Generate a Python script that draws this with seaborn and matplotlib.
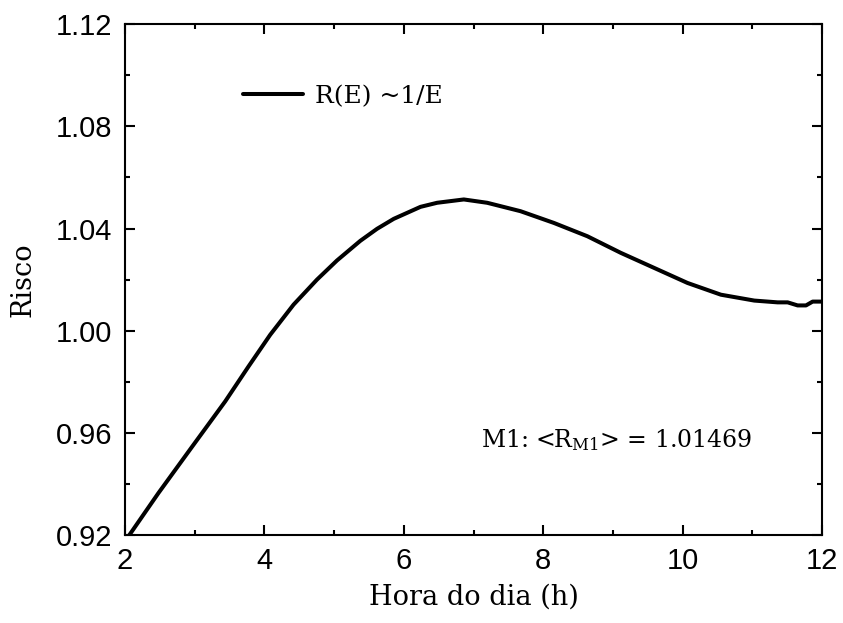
import matplotlib
matplotlib.use("Agg")
import matplotlib.pyplot as plt
import seaborn as sns
import pandas as pd
from matplotlib.ticker import MultipleLocator, FormatStrFormatter

hours = [2.0, 2.096, 2.479, 2.958, 3.437, 3.772, 4.083, 4.418, 4.754, 5.041,
         5.376, 5.616, 5.855, 6.239, 6.478, 6.861, 7.196, 7.675, 8.154, 8.633,
         9.112, 9.591, 10.07, 10.549, 11.028, 11.363, 11.507, 11.65, 11.77,
         11.866, 12.0]
risk = [0.9176, 0.9213, 0.9364, 0.9544, 0.9723, 0.9860, 0.9984, 1.0102, 1.0200,
        1.0275, 1.0352, 1.0399, 1.0438, 1.0485, 1.0501, 1.0514, 1.0501, 1.0468,
        1.0422, 1.0370, 1.0305, 1.0246, 1.0187, 1.0141, 1.0118, 1.0111, 1.0111,
        1.0099, 1.0099, 1.0114, 1.0114]
series_label = "R(E) ~1/E"
annotation = r"M1: <R$_{\mathrm{M1}}$> = 1.01469"
x_label = "Hora do dia (h)"
y_label = "Risco"

sns.set_style("white")
plt.rcParams["font.family"] = ["Liberation Sans", "DejaVu Sans"]
plt.rcParams["mathtext.fontset"] = "custom"
plt.rcParams["mathtext.rm"] = "DejaVu Serif"
plt.rcParams["mathtext.it"] = "DejaVu Serif:italic"
for key in ["text.color", "axes.labelcolor", "xtick.color", "ytick.color",
            "axes.edgecolor"]:
    plt.rcParams[key] = "black"

df = pd.DataFrame({"hora": hours, "risco": risk})

fig = plt.figure(figsize=(8.43, 6.23), dpi=100)
ax = fig.add_axes([0.1483, 0.1413, 0.8268, 0.8197])

sns.lineplot(data=df, x="hora", y="risco", ax=ax, color="black", lw=2.9,
             label=series_label, sort=False)

ax.set_xlim(2, 12)
ax.set_ylim(0.92, 1.12)
ax.xaxis.set_major_locator(MultipleLocator(2))
ax.xaxis.set_minor_locator(MultipleLocator(1))
ax.yaxis.set_major_locator(MultipleLocator(0.04))
ax.yaxis.set_minor_locator(MultipleLocator(0.02))
ax.yaxis.set_major_formatter(FormatStrFormatter("%.2f"))

for s in ax.spines.values():
    s.set_visible(True)
    s.set_color("black")
    s.set_linewidth(1.5)

ax.tick_params(which="both", direction="in", top=True, right=True,
               bottom=True, left=True, color="black", labelcolor="black", width=1.5)
ax.tick_params(which="major", length=7, labelsize=21, pad=9)
ax.tick_params(which="minor", length=3.8)

serif = ["DejaVu Serif"]
ax.set_xlabel(x_label, family=serif, fontsize=19.5, labelpad=6, color="black")
ax.set_ylabel(y_label, family=serif, fontsize=19.5, labelpad=14, color="black")

leg = ax.legend(loc="center left", bbox_to_anchor=(0.169, 0.859), frameon=False,
                handlelength=2.4, handletextpad=0.5, borderaxespad=0, borderpad=0,
                prop={"family": serif, "size": 18})
for t in leg.get_texts():
    t.set_color("black")

ax.text(0.706, 0.172, annotation, transform=ax.transAxes, ha="center",
        va="baseline", fontsize=17, family=serif, color="black")

fig.savefig("out.png", dpi=100)
